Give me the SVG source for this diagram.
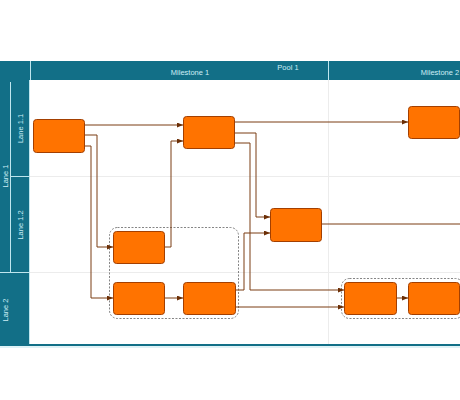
<svg xmlns="http://www.w3.org/2000/svg" width="460" height="400" viewBox="0 0 460 400">
<defs>
<style>
.hdr{fill:#126f87}
.sep{stroke:#bfe6ee;stroke-width:1;fill:none}
.grid{stroke:#ececec;stroke-width:1;fill:none}
.lbl{font-family:"Liberation Sans",Arial,sans-serif;font-size:7.5px;fill:#cdeef6}
.node{fill:#ff7300;stroke:#a33f00;stroke-width:1}
.grp{fill:none;stroke:#666;stroke-width:0.8;stroke-dasharray:2,1.5}
.edge{fill:none;stroke:#7b3c12;stroke-width:1}
</style>
<marker id="arr" markerUnits="userSpaceOnUse" markerWidth="6" markerHeight="5" refX="6" refY="2.5" orient="auto">
<path d="M0,0 L6,2.5 L0,5 z" fill="#6b2e05"/>
</marker>
</defs>
<rect width="460" height="400" fill="#ffffff"/>
<g id="pool">
<rect class="hdr" x="0" y="61" width="460" height="19"/>
<rect class="hdr" x="0" y="80" width="30" height="265"/>
<rect class="hdr" x="0" y="344" width="460" height="2"/>
<line class="sep" x1="0" y1="347" x2="460" y2="347"/>
<line class="sep" x1="30.5" y1="61" x2="30.5" y2="80"/>
<line class="sep" x1="328.5" y1="61" x2="328.5" y2="80"/>
<line class="sep" x1="29.5" y1="80" x2="29.5" y2="344"/>
<line class="sep" x1="10.5" y1="82" x2="10.5" y2="272"/>
<line class="sep" x1="11" y1="176.5" x2="30" y2="176.5"/>
<line class="sep" x1="0" y1="272.5" x2="30" y2="272.5"/>
<line class="grid" x1="30" y1="176.5" x2="460" y2="176.5"/>
<line class="grid" x1="30" y1="272.5" x2="460" y2="272.5"/>
<line class="grid" x1="328.5" y1="80" x2="328.5" y2="344"/>
<text class="lbl" x="288" y="70" text-anchor="middle">Pool 1</text>
<text class="lbl" x="190" y="75" text-anchor="middle">Milestone 1</text>
<text class="lbl" x="440" y="75" text-anchor="middle">Milestone 2</text>
<text class="lbl" text-anchor="middle" transform="translate(23,128.5) rotate(-90)">Lane 1.1</text>
<text class="lbl" text-anchor="middle" transform="translate(23,225) rotate(-90)">Lane 1.2</text>
<text class="lbl" text-anchor="middle" transform="translate(8,176) rotate(-90)">Lane 1</text>
<text class="lbl" text-anchor="middle" transform="translate(8,310) rotate(-90)">Lane 2</text>
</g>
<g id="groups">
<rect class="grp" x="109.5" y="227.5" width="129" height="91" rx="8"/>
<rect class="grp" x="341.5" y="278.5" width="122" height="40" rx="8"/>
</g>
<g id="connectors">
<path class="edge" d="M85,125 H183" marker-end="url(#arr)"/>
<path class="edge" d="M85,135 H97 V247 H113" marker-end="url(#arr)"/>
<path class="edge" d="M85,146 H91 V298 H113" marker-end="url(#arr)"/>
<path class="edge" d="M164,247 H171 V141 H183" marker-end="url(#arr)"/>
<path class="edge" d="M234,122 H408" marker-end="url(#arr)"/>
<path class="edge" d="M234,133 H256 V217 H270" marker-end="url(#arr)"/>
<path class="edge" d="M234,143 H250 V290 H344" marker-end="url(#arr)"/>
<path class="edge" d="M235,290 H244 V233 H270" marker-end="url(#arr)"/>
<path class="edge" d="M235,307 H344" marker-end="url(#arr)"/>
<path class="edge" d="M164,298 H183" marker-end="url(#arr)"/>
<path class="edge" d="M396,298 H408" marker-end="url(#arr)"/>
<path class="edge" d="M321,224 H460"/>
</g>
<g id="nodeA"><rect class="node" x="33.5" y="119.5" width="51" height="33" rx="3"/></g>
<g id="nodeB"><rect class="node" x="183.5" y="116.5" width="51" height="32" rx="3"/></g>
<g id="nodeC"><rect class="node" x="408.5" y="106.5" width="51" height="32" rx="3"/></g>
<g id="nodeD"><rect class="node" x="270.5" y="208.5" width="51" height="33" rx="3"/></g>
<g id="nodeE"><rect class="node" x="113.5" y="231.5" width="51" height="32" rx="3"/></g>
<g id="nodeF"><rect class="node" x="113.5" y="282.5" width="51" height="32" rx="3"/></g>
<g id="nodeG"><rect class="node" x="183.5" y="282.5" width="52" height="32" rx="3"/></g>
<g id="nodeH"><rect class="node" x="344.5" y="282.5" width="52" height="32" rx="3"/></g>
<g id="nodeI"><rect class="node" x="408.5" y="282.5" width="51" height="32" rx="3"/></g>
</svg>
